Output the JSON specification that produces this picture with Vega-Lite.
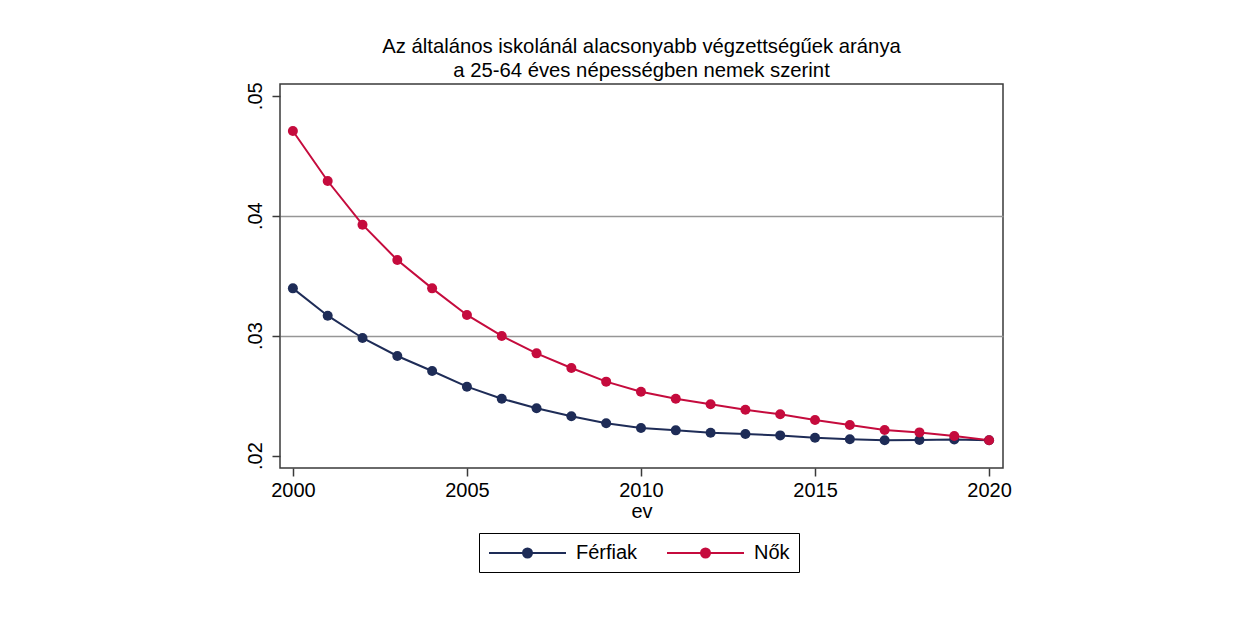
{
  "$schema": "https://vega.github.io/schema/vega-lite/v6.json",
  "autosize": "none",
  "padding": {"left": 280, "top": 84, "right": 233, "bottom": 150},
  "width": 723,
  "height": 384,
  "background": "white",
  "title": {
    "text": ["Az általános iskolánál alacsonyabb végzettségűek aránya", "a 25-64 éves népességben nemek szerint"],
    "anchor": "middle",
    "frame": "group",
    "font": "Liberation Sans",
    "fontSize": 20.3,
    "fontWeight": "normal",
    "color": "#000000",
    "lineHeight": 24,
    "offset": 1
  },
  "data": {
    "values": [
      {"ev": 2000, "nem": "Férfiak", "arany": 0.03394},
      {"ev": 2001, "nem": "Férfiak", "arany": 0.03166},
      {"ev": 2002, "nem": "Férfiak", "arany": 0.02980},
      {"ev": 2003, "nem": "Férfiak", "arany": 0.02830},
      {"ev": 2004, "nem": "Férfiak", "arany": 0.02705},
      {"ev": 2005, "nem": "Férfiak", "arany": 0.02574},
      {"ev": 2006, "nem": "Férfiak", "arany": 0.02474},
      {"ev": 2007, "nem": "Férfiak", "arany": 0.02394},
      {"ev": 2008, "nem": "Férfiak", "arany": 0.02327},
      {"ev": 2009, "nem": "Férfiak", "arany": 0.02269},
      {"ev": 2010, "nem": "Férfiak", "arany": 0.02229},
      {"ev": 2011, "nem": "Férfiak", "arany": 0.02210},
      {"ev": 2012, "nem": "Férfiak", "arany": 0.02190},
      {"ev": 2013, "nem": "Férfiak", "arany": 0.02180},
      {"ev": 2014, "nem": "Férfiak", "arany": 0.02168},
      {"ev": 2015, "nem": "Férfiak", "arany": 0.02148},
      {"ev": 2016, "nem": "Férfiak", "arany": 0.02135},
      {"ev": 2017, "nem": "Férfiak", "arany": 0.02127},
      {"ev": 2018, "nem": "Férfiak", "arany": 0.02130},
      {"ev": 2019, "nem": "Férfiak", "arany": 0.02133},
      {"ev": 2020, "nem": "Férfiak", "arany": 0.02127},
      {"ev": 2000, "nem": "Nők", "arany": 0.04706},
      {"ev": 2001, "nem": "Nők", "arany": 0.04289},
      {"ev": 2002, "nem": "Nők", "arany": 0.03925},
      {"ev": 2003, "nem": "Nők", "arany": 0.03630},
      {"ev": 2004, "nem": "Nők", "arany": 0.03394},
      {"ev": 2005, "nem": "Nők", "arany": 0.03172},
      {"ev": 2006, "nem": "Nők", "arany": 0.02997},
      {"ev": 2007, "nem": "Nők", "arany": 0.02852},
      {"ev": 2008, "nem": "Nők", "arany": 0.02730},
      {"ev": 2009, "nem": "Nők", "arany": 0.02616},
      {"ev": 2010, "nem": "Nők", "arany": 0.02532},
      {"ev": 2011, "nem": "Nők", "arany": 0.02474},
      {"ev": 2012, "nem": "Nők", "arany": 0.02427},
      {"ev": 2013, "nem": "Nők", "arany": 0.02382},
      {"ev": 2014, "nem": "Nők", "arany": 0.02344},
      {"ev": 2015, "nem": "Nők", "arany": 0.02296},
      {"ev": 2016, "nem": "Nők", "arany": 0.02254},
      {"ev": 2017, "nem": "Nők", "arany": 0.02213},
      {"ev": 2018, "nem": "Nők", "arany": 0.02193},
      {"ev": 2019, "nem": "Nők", "arany": 0.02163},
      {"ev": 2020, "nem": "Nők", "arany": 0.02127}
    ]
  },
  "encoding": {
    "x": {
      "field": "ev",
      "type": "quantitative",
      "title": "ev",
      "scale": {"domain": [1999.63, 2020.4], "nice": false, "zero": false},
      "axis": {
        "values": [2000, 2005, 2010, 2015, 2020],
        "format": "d",
        "grid": false,
        "domain": false,
        "tickColor": "#3a3a3a",
        "tickWidth": 1.5,
        "tickSize": 8,
        "labelPadding": 4,
        "labelFont": "Liberation Sans",
        "labelFontSize": 20,
        "labelColor": "#000000",
        "titleFont": "Liberation Sans",
        "titleFontSize": 20,
        "titleFontWeight": "normal",
        "titleColor": "#000000",
        "titlePadding": 1
      }
    },
    "y": {
      "field": "arany",
      "type": "quantitative",
      "title": null,
      "scale": {"domain": [0.01896, 0.05098], "nice": false, "zero": false},
      "axis": {
        "values": [0.02, 0.03, 0.04, 0.05],
        "labelExpr": "substring(format(datum.value, '.2f'), 1)",
        "labelAngle": 270,
        "labelAlign": "center",
        "labelBaseline": "bottom",
        "domain": false,
        "grid": true,
        "gridColor": "#969696",
        "gridWidth": 1.5,
        "gridOpacity": {"condition": {"test": "datum.value < 0.025 || datum.value > 0.045", "value": 0}, "value": 1},
        "tickColor": "#3a3a3a",
        "tickWidth": 1.5,
        "tickSize": 8,
        "labelPadding": 7,
        "labelFont": "Liberation Sans",
        "labelFontSize": 20,
        "labelColor": "#000000"
      }
    },
    "color": {
      "field": "nem",
      "type": "nominal",
      "scale": {"domain": ["Férfiak", "Nők"], "range": ["#1e2c57", "#c50b3d"]},
      "legend": {
        "title": null,
        "orient": "none",
        "legendX": 199,
        "legendY": 449,
        "direction": "horizontal",
        "strokeColor": "#000000",
        "fillColor": "#ffffff",
        "padding": 9,
        "symbolType": "M -1 0 L 6.7 0 M 3.3 0 A 0.45 0.45 0 1 1 2.4 0 A 0.45 0.45 0 1 1 3.3 0 Z",
        "symbolSize": 400,
        "symbolStrokeWidth": 2,
        "labelFont": "Liberation Sans",
        "labelFontSize": 20,
        "labelColor": "#000000",
        "labelOffset": 66,
        "columnPadding": 25,
        "encode": {
          "symbols": {
            "update": {
              "fill": {"scale": "color", "field": "value"},
              "stroke": {"scale": "color", "field": "value"}
            }
          }
        }
      }
    }
  },
  "layer": [
    {"mark": {"type": "line", "strokeWidth": 2}},
    {"mark": {"type": "point", "filled": true, "size": 100, "opacity": 1}}
  ],
  "config": {
    "view": {"stroke": "#3a3a3a", "strokeWidth": 1.5}
  }
}
